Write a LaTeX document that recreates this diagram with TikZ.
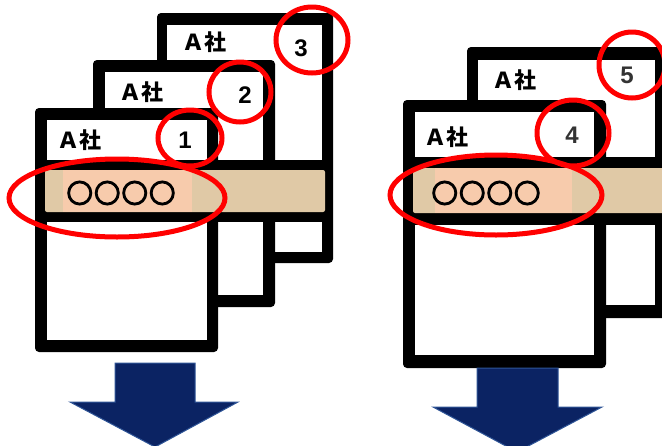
\documentclass[tikz,border=0pt]{standalone}
\usepackage{fontspec}
\setmainfont{Liberation Sans}
\newfontfamily\jp{Noto Sans CJK JP}
\definecolor{tanband}{HTML}{E0C9A6}
\definecolor{peach}{HTML}{F7CBAC}
\definecolor{navy}{HTML}{0B2363}
\definecolor{navyedge}{HTML}{2F5597}
\definecolor{ringred}{HTML}{FF0000}
% glyphs painted with fill and stroke, for a heavier outline
\newcommand{\heavyglyphs}[1]{\special{pdf:code q 2 Tr 1.6 w}#1\special{pdf:code Q}}
\tikzset{
  pageframe/.style={fill=black, rounded corners=4pt},
  pagewhite/.style={fill=white},
  company/.style={font=\jp\bfseries\fontsize{22}{22}\selectfont, inner sep=0pt},
  pagenum/.style={font=\bfseries\fontsize{24}{24}\selectfont, inner sep=0pt},
  itemtext/.style={font=\jp\bfseries\fontsize{26}{26}\selectfont, inner sep=0pt},
  ring/.style={draw=ringred, line width=5pt},
  downarrow/.style={fill=navy, draw=navyedge, line width=1pt},
}
\begin{document}
\begin{tikzpicture}[x=1pt,y=-1pt]
\useasboundingbox (0,0) rectangle (662,445);
\clip (0,0) rectangle (662,445);

% ---------- left stack: sheets 3, 2, 1 ----------
% sheet 3
\fill[pageframe] (157,13) rectangle (333,263);
\fill[pagewhite] (167,25) rectangle (322,160);
\fill[pagewhite] (167,222) rectangle (322,252);
% sheet 2
\fill[pageframe] (93,60) rectangle (275,307);
\fill[pagewhite] (105,72) rectangle (263,160);
\fill[pagewhite] (105,222) rectangle (263,295);
% sheet 1
\fill[pageframe] (35,108) rectangle (218,352);
\fill[pagewhite] (47,120) rectangle (207,160);
\fill[pagewhite] (47,222) rectangle (207,340);
% shared band
\fill[tanband, rounded corners=2pt] (45,170) rectangle (325,212);
\fill[peach] (63,170) rectangle (192,212);

\node[company] (c3) at (204,42) {Ａ社};
\node[company] (c2) at (141,92) {Ａ社};
\node[company] (c1) at (79,140) {Ａ社};
\node[pagenum] (n3) at (301,48) {3};
\node[pagenum] (n2) at (245,95) {2};
\node[pagenum] (n1) at (185,140) {1};
\node[itemtext] (i1) at (121,193) {\heavyglyphs{○\kern1.5pt○\kern1.5pt○\kern1.5pt○}};

\draw[ring] (n3) ++(11,-8) ellipse [x radius=36, y radius=33];
\draw[ring] (n2) ++(-5,-3) ellipse [x radius=31, y radius=30];
\draw[ring] (n1) ++(5,-2) ellipse [x radius=32, y radius=28];
\draw[ring] (i1) ++(-4,5) ellipse [x radius=108, y radius=39];

% ---------- right stack: sheets 5, 4 ----------
% sheet 5
\fill[pageframe] (467,47) rectangle (668,318);
\fill[pagewhite] (478,60) rectangle (655,157);
\fill[pagewhite] (478,225) rectangle (655,305);
% sheet 4
\fill[pageframe] (403,100) rectangle (606,368);
\fill[pagewhite] (415,112) rectangle (594,157);
\fill[pagewhite] (415,225) rectangle (594,355);
% shared band
\fill[tanband, rounded corners=2pt] (413,168) rectangle (672,213);
\fill[peach] (435,168) rectangle (572,213);

\node[company] (c5) at (514,80) {Ａ社};
\node[company] (c4) at (446,137) {Ａ社};
\node[pagenum, text=black!80] (n5) at (627,75) {5};
\node[pagenum, text=black!80] (n4) at (572,135) {4};
\node[itemtext] (i2) at (486,193) {\heavyglyphs{○\kern1.5pt○\kern1.5pt○\kern1.5pt○}};

\draw[ring] (n5) ++(5,-10) ellipse [x radius=33, y radius=33];
\draw[ring] (n4) ++(1,-2) ellipse [x radius=36, y radius=33];
\draw[ring] (i2) ++(10,2) ellipse [x radius=106, y radius=40];

% ---------- block arrows ----------
\draw[downarrow] (115,363) -- (195,363) -- (195,402) -- (238,402) -- (155,447)
  -- (70,402) -- (115,402) -- cycle;
\draw[downarrow] (477,368) -- (558,368) -- (558,407) -- (602,407) -- (517,452)
  -- (433,407) -- (477,407) -- cycle;
\end{tikzpicture}
\end{document}
